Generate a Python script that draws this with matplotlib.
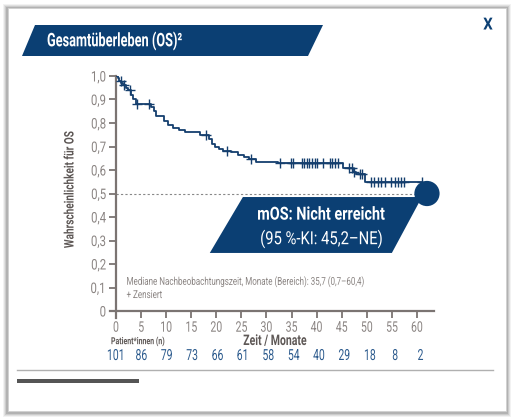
import numpy as np
import matplotlib
matplotlib.use("Agg")
import matplotlib.pyplot as plt
from matplotlib import font_manager
from matplotlib.patches import Polygon, Rectangle
from matplotlib.patheffects import AbstractPathEffect
import matplotlib.transforms as mtransforms

# Kaplan-Meier steps (months, survival)
step_times = [0, 0.3, 0.6, 1.0, 1.3, 2.0, 2.4, 2.9, 3.4, 3.9, 7.0, 7.5, 8.0, 9.5,
              10.3, 11.3, 12.5, 13.8, 16.8, 18.6, 19.2, 19.8, 20.6, 21.3, 23.0,
              24.3, 25.5, 26.6, 28.0, 32.3, 45.3, 47.3, 47.9, 49.6]
step_surv = [1.0, 0.99, 0.98, 0.97, 0.96, 0.95, 0.94, 0.92, 0.90, 0.88, 0.87, 0.85,
             0.83, 0.81, 0.79, 0.78, 0.77, 0.76, 0.75, 0.73, 0.71, 0.70, 0.69, 0.68,
             0.675, 0.665, 0.655, 0.645, 0.636, 0.628, 0.607, 0.593, 0.583, 0.551]
last_time = 61.1
censor_times = [0.9, 1.5, 2.8, 4.1, 6.6, 17.9, 22.2, 27.0, 32.7, 34.8, 35.3, 37.0,
                37.4, 38.0, 38.5, 39.0, 39.6, 40.1, 41.3, 42.6, 43.1, 43.7, 44.3,
                46.5, 47.0, 47.5, 48.6, 49.1, 50.9, 51.4, 52.2, 52.9, 53.6, 54.9,
                55.6, 56.2, 56.9, 57.5, 61.1]

risk_times = [0, 5, 10, 15, 20, 25, 30, 35, 40, 45, 50, 55, 60]
risk_counts = [101, 86, 79, 73, 66, 61, 58, 54, 40, 29, 18, 8, 2]

x_ticks = [0, 5, 10, 15, 20, 25, 30, 35, 40, 45, 50, 55, 60]
y_ticks = [0, 0.1, 0.2, 0.3, 0.4, 0.5, 0.6, 0.7, 0.8, 0.9, 1.0]
y_tick_labels = ['0', '0,1', '0,2', '0,3', '0,4', '0,5', '0,6', '0,7', '0,8', '0,9', '1,0']

median_x = 62
median_y = 0.5

navy = '#0b3f73'
curve_col = '#153f6e'
grey = '#7b7472'
light_text = '#8a8482'
dark_grey = '#5e5856'
count_col = '#2b5a8d'


class Condense(AbstractPathEffect):
    """squeeze glyphs horizontally, to fake a condensed font"""

    def __init__(self, sx, anchor='left'):
        super().__init__()
        self.sx = sx
        self.anchor = anchor

    def draw_path(self, renderer, gc, tpath, affine, rgbFace=None):
        ext = tpath.get_extents()
        if self.anchor == 'center':
            cx = (ext.x0 + ext.x1) / 2
        elif self.anchor == 'right':
            cx = ext.x1
        else:
            cx = 0
        squeeze = mtransforms.Affine2D().translate(-cx, 0).scale(self.sx, 1).translate(cx, 0)
        renderer.draw_path(gc, tpath, squeeze + affine, rgbFace)


names = {f.name for f in font_manager.fontManager.ttflist}
base_font = 'Roboto' if 'Roboto' in names else 'DejaVu Sans'
plt.rcParams['font.family'] = [base_font, 'DejaVu Sans']

W, H = 514, 418
fig = plt.figure(figsize=(W / 100, H / 100), dpi=100)
fig.patch.set_facecolor('white')

# background / card layer in pixel coordinates
bg = fig.add_axes([0, 0, 1, 1])
bg.set_xlim(0, W)
bg.set_ylim(H, 0)
bg.axis('off')

for i, a in enumerate([0.05, 0.07, 0.09, 0.12]):
    d = 5 - i
    bg.add_patch(Rectangle((8 - d, 8 - d + 1), 498 + 2 * d, 403 + 2 * d,
                           facecolor='black', alpha=a, edgecolor='none'))
bg.add_patch(Rectangle((8, 8), 498, 403, facecolor='white', edgecolor='#d0d0d0', lw=0.6))

bg.add_patch(Polygon([(35, 25), (323, 25), (308, 56), (22, 56)], closed=True,
                     facecolor=navy, edgecolor='none'))
bg.text(47, 41, 'Gesamtüberleben (OS)²', color='white', fontsize=13.5,
        fontweight='bold', va='center', ha='left',
        path_effects=[Condense(0.68, 'left')])
bg.text(488, 25, 'X', color=navy, fontsize=12, fontweight='bold', va='center', ha='center',
        path_effects=[Condense(0.9, 'center')])

bg.plot([17, 493], [369.5, 369.5], color='#b0b0b0', lw=1)
bg.add_patch(Rectangle((17, 379), 122, 4, facecolor='#555555', edgecolor='none'))

# main plot
ax = fig.add_axes([116 / W, 1 - 311 / H, (434 - 116) / W, 235 / H])
ax.patch.set_alpha(0)
ax.set_xlim(0, 63.4)
ax.set_ylim(0, 1.0)

ax.step(step_times + [last_time], step_surv + [step_surv[-1]], where='post',
        color=curve_col, lw=1.3, zorder=4)
idx = np.searchsorted(step_times, censor_times, side='right') - 1
censor_surv = np.array(step_surv)[idx]
ax.plot(censor_times, censor_surv, linestyle='none', marker='+', markersize=7,
        mew=1.0, color=curve_col, zorder=4)

ax.plot([0, median_x], [median_y, median_y], linestyle=(0, (2, 2)), color='#888888',
        lw=0.8, zorder=2)

ax.add_patch(Polygon([(25.3, 0.485), (61.0, 0.485), (55.0, 0.247), (18.7, 0.247)],
                     closed=True, facecolor=navy, edgecolor='none', zorder=5,
                     clip_on=False))
ax.scatter([median_x], [median_y], s=330, color=navy, zorder=6, clip_on=False,
           edgecolors='none')
ax.text(40.9, 0.41, 'mOS: Nicht erreicht', color='white', fontsize=13,
        fontweight='bold', ha='center', va='center', zorder=7,
        path_effects=[Condense(0.8, 'center')])
ax.text(40.9, 0.307, '(95 %-KI: 45,2–NE)', color='white', fontsize=13,
        ha='center', va='center', zorder=7,
        path_effects=[Condense(0.82, 'center')])

ax.text(2.1, 0.125, 'Mediane Nachbeobachtungszeit, Monate (Bereich): 35,7 (0,7–60,4)',
        color=light_text, fontsize=7.8, ha='left', va='center',
        path_effects=[Condense(0.74, 'left')])
ax.text(2.1, 0.068, '+ Zensiert', color=light_text, fontsize=7.8, ha='left', va='center',
        path_effects=[Condense(0.74, 'left')])

for s in ['top', 'right']:
    ax.spines[s].set_visible(False)
for s in ['left', 'bottom']:
    ax.spines[s].set_color(grey)
    ax.spines[s].set_linewidth(1.6)
ax.spines['left'].set_bounds(-0.03, 1.0)
ax.spines['bottom'].set_bounds(-1.2, 63.4)
ax.spines['bottom'].set_zorder(3)

ax.set_xticks(x_ticks)
ax.set_xticklabels([str(v) for v in x_ticks])
ax.set_yticks(y_ticks)
ax.set_yticklabels(y_tick_labels)
ax.tick_params(direction='out', length=5, width=1.3, color=grey, labelcolor=light_text,
               labelsize=10.5, pad=2)
for lbl in ax.get_xticklabels():
    lbl.set_path_effects([Condense(0.72, 'center')])
for lbl in ax.get_yticklabels():
    lbl.set_path_effects([Condense(0.78, 'right')])

ax.set_ylabel('Wahrscheinlichkeit für OS', color=dark_grey, fontsize=9.5,
              fontweight='bold', ha='center', va='center')
ax.yaxis.set_label_coords((70 - 116) / 318, (311 - 189) / 235)
ax.yaxis.label.set_path_effects([Condense(0.76, 'center')])
ax.set_xlabel('Zeit / Monate', color=dark_grey, fontsize=10.5, fontweight='bold',
              ha='center', va='center')
ax.xaxis.set_label_coords((275 - 116) / 318, (311 - 341) / 235)
ax.xaxis.label.set_path_effects([Condense(0.72, 'center')])

trans = mtransforms.blended_transform_factory(ax.transData, fig.transFigure)
for t, n in zip(risk_times, risk_counts):
    ax.text(t * 1.012, 1 - 356 / H, str(n), color=count_col, fontsize=11,
            ha='center', va='center', transform=trans,
            path_effects=[Condense(0.68, 'center')])
ax.text(-1.0, 1 - 341 / H, 'Patient*innen (n)', color=dark_grey, fontsize=7,
        fontweight='bold', ha='left', va='center', transform=trans,
        path_effects=[Condense(0.72, 'left')])

fig.savefig('out.png', dpi=100)
